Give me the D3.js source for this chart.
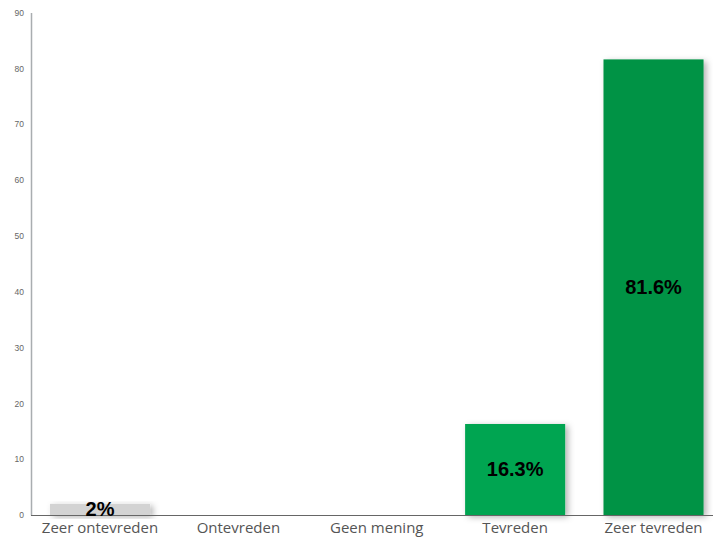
<!DOCTYPE html>
<html><head><meta charset="utf-8">
<script src="https://cdn.jsdelivr.net/npm/d3@7"></script>
<style>body{margin:0;background:#fff}svg{display:block}</style>
</head><body>
<svg id="c" width="713" height="540"></svg>
<script>
const categories = ["Zeer ontevreden","Ontevreden","Geen mening","Tevreden","Zeer tevreden"];
const values = [2, 0, 0, 16.3, 81.6];
const labels = ["2%", "", "", "16.3%", "81.6%"];
const colors = ["#d3d3d3", "#cccccc", "#cccccc", "#00a551", "#009344"];
const yTicks = [0,10,20,30,40,50,60,70,80,90];

const svg = d3.select("#c");
const defs = svg.append("defs");
const f = defs.append("filter").attr("id","sh").attr("x","-20%").attr("y","-20%").attr("width","150%").attr("height","150%");
f.append("feDropShadow").attr("dx",3).attr("dy",2).attr("stdDeviation",3).attr("flood-color","#000").attr("flood-opacity",0.3);

const x = d3.scaleBand().domain(categories).range([31, 722.5]).paddingInner(0.277).paddingOuter(0.137);
const y = d3.scaleLinear().domain([0,90]).range([515, 12.5]);

// y axis
const ya = svg.append("g").attr("transform","translate(31,0)")
  .call(d3.axisLeft(y).tickValues(yTicks).tickSize(0).tickPadding(7));
ya.select(".domain").attr("stroke","#a9adb0").attr("stroke-width",1.5);
ya.selectAll("text").attr("fill","#666").style("font-family","Liberation Sans, Arial, sans-serif").style("font-size","8.5px");

// bars
svg.append("g").selectAll("rect").data(categories).join("rect")
  .attr("x", d => x(d)).attr("width", x.bandwidth())
  .attr("y", (d,i) => y(values[i])).attr("height", (d,i) => y(0) - y(values[i]))
  .attr("fill", (d,i) => colors[i])
  .attr("filter", (d,i) => values[i] > 0 ? "url(#sh)" : null);

// x axis
const xa = svg.append("g").attr("transform","translate(0,515)")
  .call(d3.axisBottom(x).tickSize(0).tickPadding(7));
xa.select(".domain").attr("stroke","#666").attr("stroke-width",1).attr("d","M31,0.5H713");
xa.selectAll("text").attr("fill","#555").style("font-family","Open Sans, sans-serif").style("font-size","15px");

// value labels
svg.append("g").selectAll("text").data(categories).join("text")
  .attr("x", d => x(d) + x.bandwidth()/2)
  .attr("y", (d,i) => (y(values[i]) + y(0))/2)
  .attr("dy","0.35em").attr("text-anchor","middle")
  .style("font-family","Liberation Sans, Arial, sans-serif").style("font-weight","bold").style("font-size","20px")
  .attr("fill","#000")
  .text((d,i) => labels[i]);
</script>
</body></html>
